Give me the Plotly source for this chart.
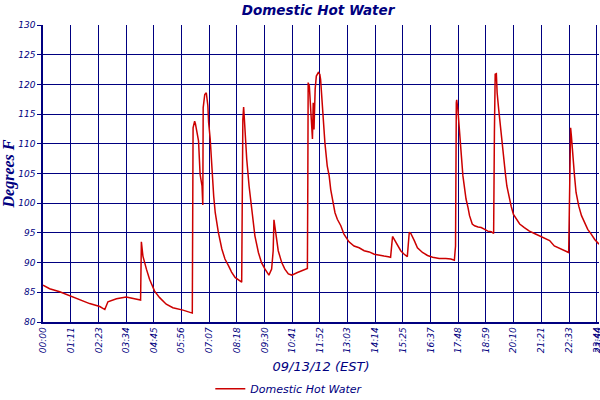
import plotly.graph_objects as go

# minutes after midnight, temperature (deg F)
minutes = [0, 17, 43, 69, 94, 120, 146, 159, 167, 189, 214, 240, 251,
           253, 257, 266, 274, 287, 300, 317, 334, 360, 384,
           386, 390, 392, 396, 400, 404, 409, 411, 412, 416, 420, 424, 426,
           430, 434, 439, 443, 451, 460, 468, 477, 485, 494, 503, 511,
           514, 516, 518, 524, 530, 537, 545, 554, 562, 571, 581,
           588, 592, 594, 598, 605, 614, 622, 631, 640, 653, 665, 677, 680,
           681, 682, 685, 687, 690, 693, 695, 697, 700, 703, 708, 712, 714,
           717, 721, 725, 731, 736, 740, 744, 751, 757, 766, 774, 787, 800,
           813, 826, 839, 852, 865, 877, 888, 894,
           899, 903, 912, 920, 929, 937, 942, 946, 955, 963, 976, 989,
           1002, 1019, 1036, 1049, 1058, 1061, 1063, 1064, 1067, 1071, 1076,
           1080, 1084, 1088, 1093, 1097, 1104, 1110, 1119, 1127, 1136, 1144,
           1153, 1159, 1161, 1163, 1166, 1168, 1172, 1176, 1180, 1185, 1189,
           1193, 1198, 1204, 1210, 1217, 1226, 1238, 1251, 1264, 1277, 1290,
           1303, 1315, 1328, 1341, 1352, 1354, 1357, 1359, 1363, 1367, 1371,
           1378, 1385, 1393, 1401, 1410, 1419, 1430]
temps = [86.2, 85.6, 85.1, 84.4, 83.8, 83.1, 82.6, 82.1, 83.4, 83.9, 84.2, 83.8, 83.7,
         93.5, 91.1, 88.9, 87.2, 85.2, 84.1, 83.0, 82.4, 82.0, 81.5,
         112.7, 113.8, 113.4, 111.9, 110.5, 104.9, 102.9, 99.7, 116.1, 118.3, 118.6, 116.4, 113.6,
         110.8, 105.7, 101.2, 98.4, 95.1, 92.3, 90.6, 89.5, 88.4, 87.5, 87.1, 86.7,
         114.1, 116.2, 114.1, 107.4, 102.9, 98.4, 94.5, 91.7, 90.0, 88.9, 87.9,
         88.9, 92.0, 97.2, 95.1, 92.0, 90.0, 88.9, 88.1, 87.9, 88.3, 88.6, 88.9, 89.0,
         102.3, 120.3, 119.7, 116.9, 114.1, 110.8, 116.9, 112.4, 119.2, 121.4, 122.0, 121.7, 120.8,
         117.5, 113.8, 110.2, 106.3, 104.6, 102.3, 100.7, 98.4, 97.3, 96.2, 94.8, 93.5, 92.8,
         92.5, 92.0, 91.8, 91.4, 91.2, 91.1, 91.0, 90.9,
         94.4, 93.9, 92.8, 92.0, 91.4, 91.0, 95.1, 94.9, 93.7, 92.5, 91.7, 91.2,
         90.9, 90.7, 90.7, 90.6, 90.4, 92.8, 116.9, 117.4, 115.8, 111.4, 108.0,
         104.6, 102.3, 100.7, 99.3, 97.9, 96.5, 96.2, 96.0, 95.9, 95.6, 95.3,
         95.2, 94.9, 111.9, 121.7, 121.8, 118.6, 115.8, 113.0, 110.2, 107.4, 105.1,
         102.9, 101.2, 99.5, 98.1, 97.3, 96.5, 95.9, 95.3, 94.9, 94.5, 94.1,
         93.7, 92.8, 92.4, 92.0, 91.7, 100.1, 112.7, 111.3, 107.4, 104.6, 101.8,
         99.5, 97.9, 96.7, 95.6, 94.8, 93.9, 93.1]

tick_labels = ['00:00', '01:11', '02:23', '03:34', '04:45', '05:56', '07:07',
               '08:18', '09:30', '10:41', '11:52', '13:03', '14:14', '15:25',
               '16:37', '17:48', '18:59', '20:10', '21:21', '22:33', '23:44',
               '23:50']
tick_mins = [int(t[:2]) * 60 + int(t[3:]) for t in tick_labels]

navy = '#000080'

fig = go.Figure()
fig.add_trace(go.Scatter(x=minutes, y=temps, mode='lines',
                         line=dict(color='#cc0000', width=1.5),
                         name='Domestic Hot Water'))

fig.update_layout(
    width=600, height=400,
    margin=dict(l=43, r=1, t=25, b=78, autoexpand=False),
    paper_bgcolor='white', plot_bgcolor='white',
    title=dict(text='Domestic Hot Water', x=0.53, xanchor='center',
               y=0.975, yanchor='middle', automargin=False,
               font=dict(family='DejaVu Sans', size=13.5, color=navy,
                         style='italic', weight='bold')),
    showlegend=True,
    legend=dict(orientation='h', x=0.443, xanchor='center', y=-0.225,
                yanchor='middle', itemwidth=30,
                font=dict(family='DejaVu Sans', size=11, color=navy,
                          style='italic')),
    font=dict(family='DejaVu Sans', color=navy),
)
fig.update_xaxes(range=[0, 1430], tickvals=tick_mins, ticktext=tick_labels,
                 tickangle=-90, showgrid=True, gridcolor=navy, gridwidth=1.3,
                 showline=True, linecolor=navy, linewidth=1.5, zeroline=False,
                 automargin=False, ticks='', ticklabeloverflow='allow',
                 tickfont=dict(size=9, color=navy, style='italic'),
                 title=dict(text='09/13/12 (EST)', standoff=10,
                            font=dict(size=13, color=navy, style='italic')))
fig.update_yaxes(range=[80, 130], dtick=5, showgrid=True, gridcolor=navy,
                 gridwidth=1.3, showline=True, linecolor=navy, linewidth=1.5,
                 zeroline=False, automargin=False, ticks='outside', ticklen=4,
                 tickcolor=navy,
                 tickfont=dict(size=9, color=navy, style='italic'),
                 title=dict(text='Degrees F', standoff=0,
                            font=dict(family='Liberation Serif', size=16,
                                      color=navy, style='italic',
                                      weight='bold')))

# page body has a default 8px margin; drop it so the chart fills the window
fig.write_html('out.html', config={'displayModeBar': False},
               post_script="document.body.style.margin='0px';")
